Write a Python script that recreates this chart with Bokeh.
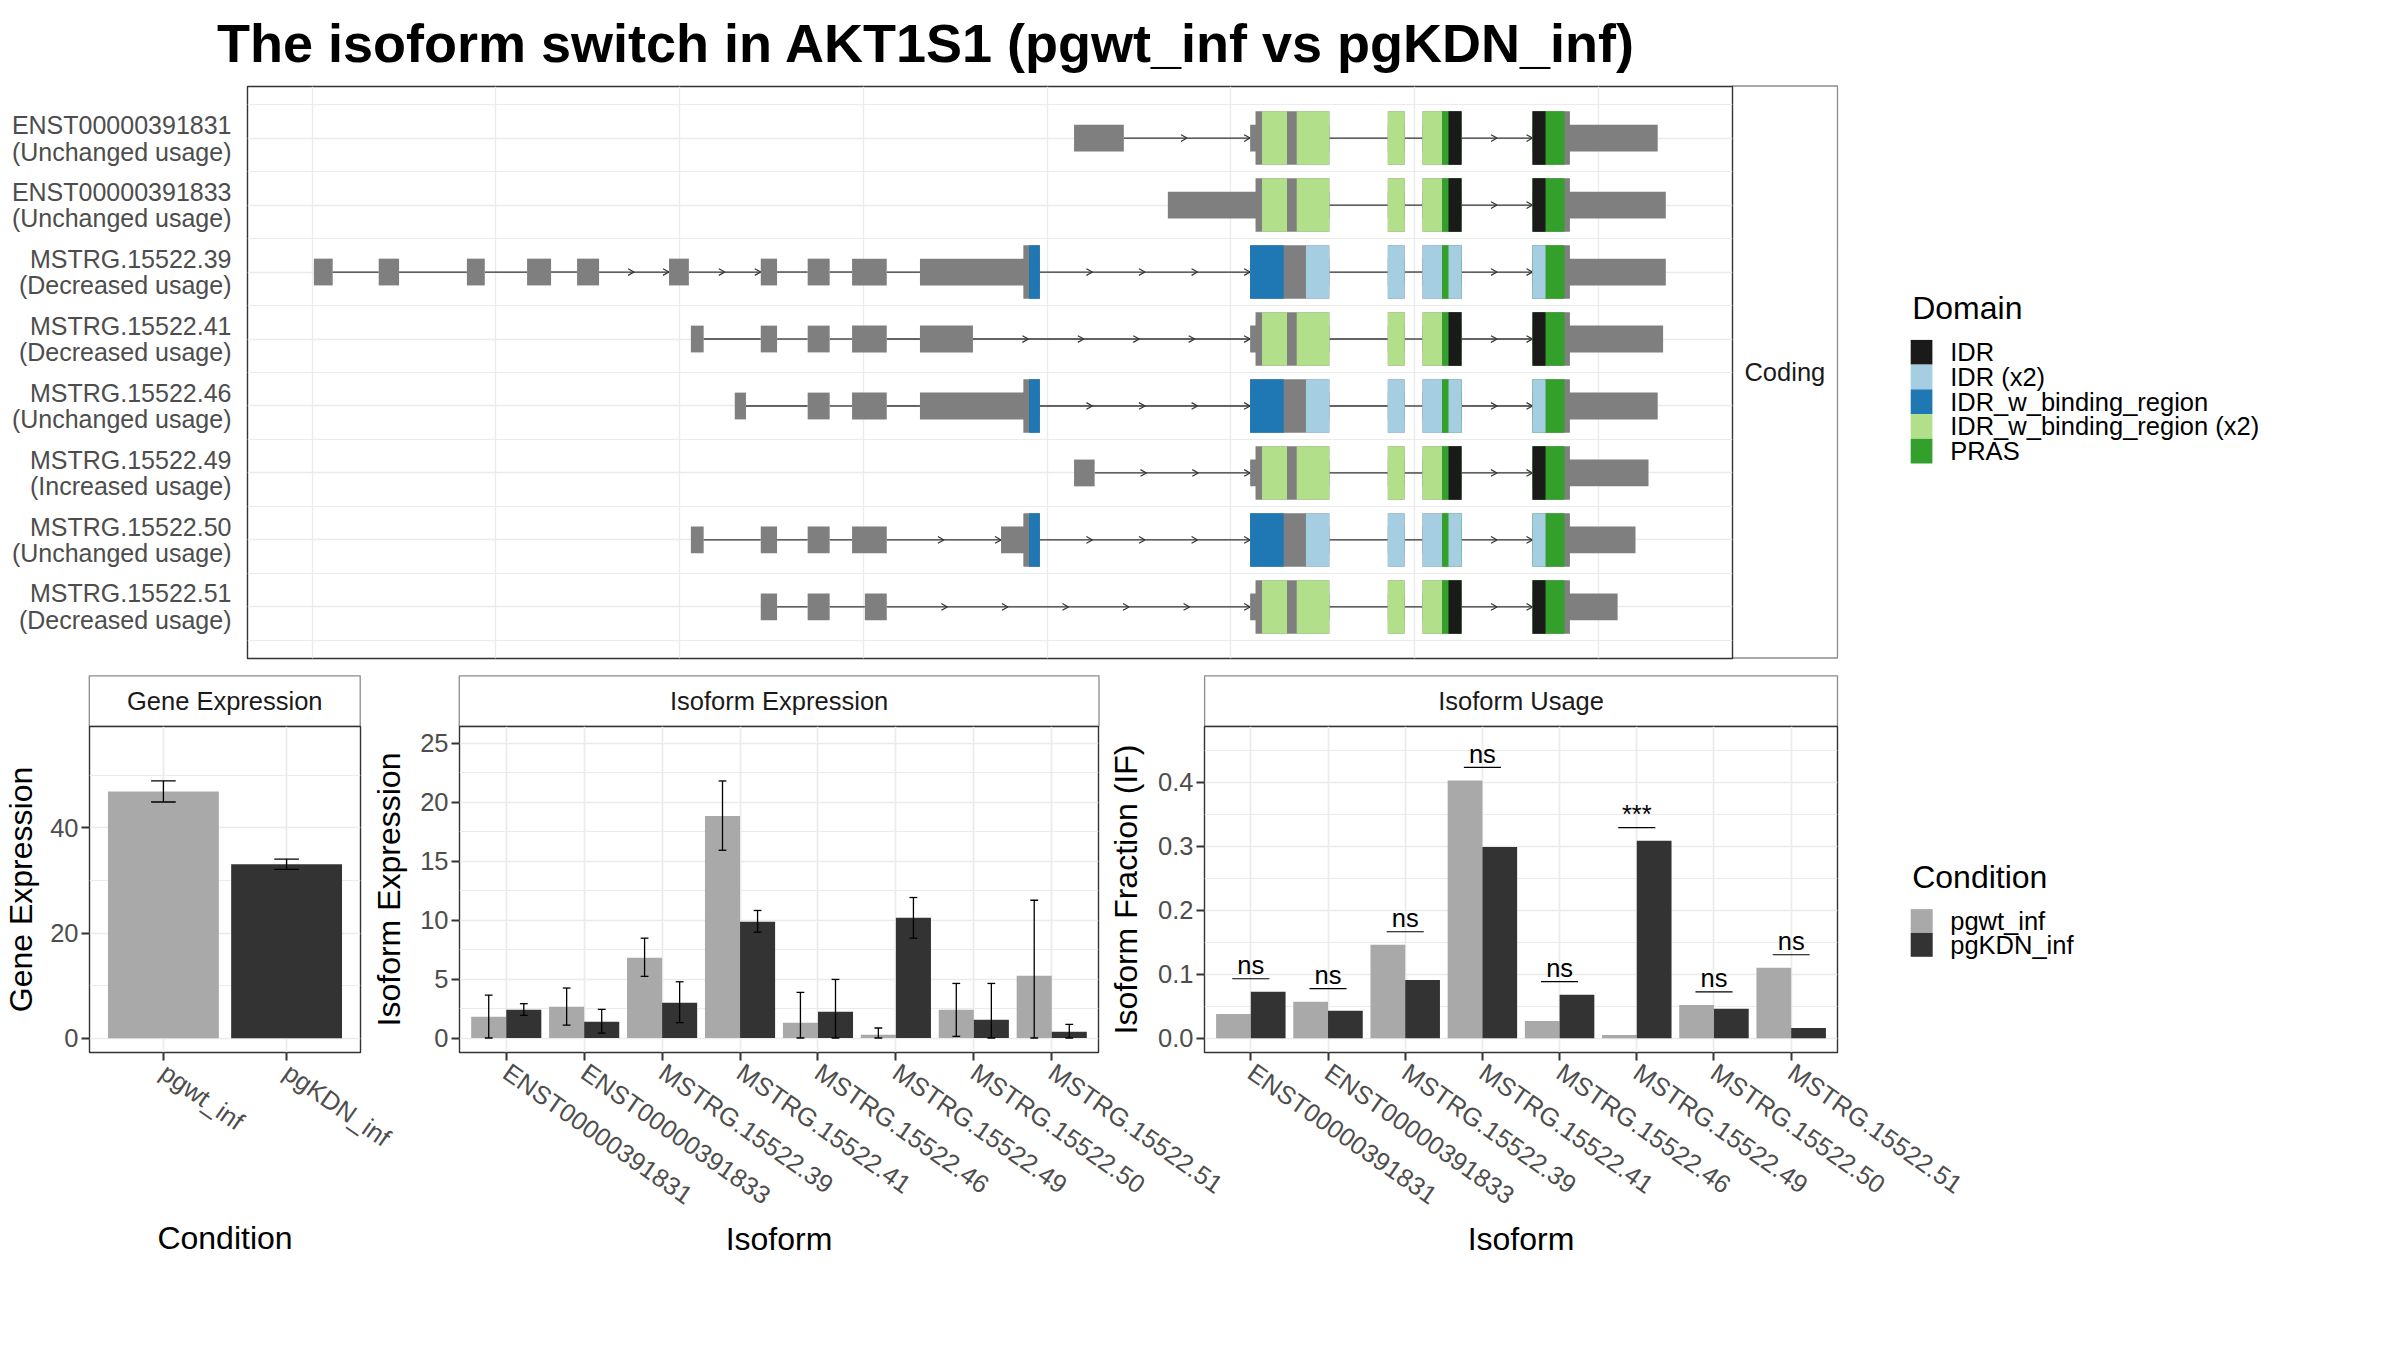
import math
from bokeh.plotting import figure
from bokeh.models import Range1d, FixedTicker, NumeralTickFormatter
from bokeh.layouts import column
from bokeh.core.properties import value
from bokeh.embed import file_html
from bokeh.resources import INLINE

# ---------------- data ----------------
plot_title = "The isoform switch in AKT1S1 (pgwt_inf vs pgKDN_inf)"

transcripts = ["ENST00000391831", "ENST00000391833", "MSTRG.15522.39", "MSTRG.15522.41",
               "MSTRG.15522.46", "MSTRG.15522.49", "MSTRG.15522.50", "MSTRG.15522.51"]
usage_status = ["Unchanged usage", "Unchanged usage", "Decreased usage", "Decreased usage",
                "Unchanged usage", "Increased usage", "Unchanged usage", "Decreased usage"]

# exon (start, end) in rescaled transcript coordinates, one list per transcript
tx_exons = [
    [(1073.2, 1123.0), (1249.3, 1328.5), (1387.0, 1403.8), (1421.7, 1460.7), (1531.7, 1656.9)],
    [(1167.0, 1328.5), (1387.0, 1403.8), (1421.7, 1460.7), (1531.7, 1665.0)],
    [(313.0, 331.8), (377.8, 398.2), (466.0, 483.9), (526.2, 550.2), (576.2, 598.2), (668.1, 688.0),
     (759.9, 776.2), (806.8, 828.8), (851.2, 885.9), (919.1, 1039.0), (1249.3, 1328.5),
     (1387.0, 1403.8), (1421.7, 1460.7), (1531.7, 1665.0)],
    [(690.0, 702.8), (759.9, 776.2), (806.8, 828.8), (851.2, 885.9), (919.1, 972.1),
     (1249.3, 1328.5), (1387.0, 1403.8), (1421.7, 1460.7), (1531.7, 1662.3)],
    [(733.9, 745.1), (806.8, 828.8), (851.2, 885.9), (919.1, 1039.0), (1249.3, 1328.5),
     (1387.0, 1403.8), (1421.7, 1460.7), (1531.7, 1656.9)],
    [(1073.2, 1093.8), (1249.3, 1328.5), (1387.0, 1403.8), (1421.7, 1460.7), (1531.7, 1647.7)],
    [(690.0, 702.8), (759.9, 776.2), (806.8, 828.8), (851.2, 885.9), (1000.2, 1039.0),
     (1249.3, 1328.5), (1387.0, 1403.8), (1421.7, 1460.7), (1531.7, 1634.7)],
    [(759.9, 776.2), (806.8, 828.8), (864.0, 885.9), (1249.3, 1328.5), (1387.0, 1403.8),
     (1421.7, 1460.7), (1531.7, 1616.8)],
]
# number of direction arrows drawn on each intron
tx_intron_arrows = [
    [2, 0, 0, 2],
    [0, 0, 2],
    [0, 0, 0, 0, 2, 2, 0, 0, 0, 4, 0, 0, 2],
    [0, 0, 0, 0, 5, 0, 0, 2],
    [0, 0, 0, 4, 0, 0, 2],
    [3, 0, 0, 2],
    [0, 0, 0, 2, 4, 0, 0, 2],
    [0, 0, 6, 0, 0, 2],
]
tx_cds_start = [1254.7, 1254.7, 1022.5, 1254.7, 1022.5, 1254.7, 1022.5, 1254.7]
tx_cds_end = [1569.1, 1569.1, 1569.1, 1569.1, 1569.1, 1569.1, 1569.1, 1569.1]
tx_domain_set = ["A", "A", "B", "A", "B", "A", "B", "A"]

domA_name = ["PRAS", "IDR_w_binding_region (x2)", "IDR_w_binding_region (x2)", "IDR"]
domA_start = [1441.2, 1261.2, 1295.9, 1447.7]
domA_end = [1563.7, 1286.2, 1441.2, 1544.7]
domB_name = ["PRAS", "IDR_w_binding_region", "IDR (x2)", "IDR (x2)"]
domB_start = [1441.2, 1028.2, 1305.1, 1447.7]
domB_end = [1563.7, 1282.9, 1441.2, 1544.7]

domain_names = ["IDR", "IDR (x2)", "IDR_w_binding_region", "IDR_w_binding_region (x2)", "PRAS"]
domain_colors = ["#1A1A1A", "#A6CEE3", "#1F78B4", "#B2DF8A", "#33A02C"]
x_breaks = [311.4, 495.1, 678.8, 862.5, 1046.2, 1229.9, 1413.6, 1597.3]

conditions = ["pgwt_inf", "pgKDN_inf"]
condition_colors = ["#A9A9A9", "#333333"]
gene_mean = [46.9, 33.05]
gene_lo = [44.9, 32.1]
gene_hi = [48.9, 34.06]

isoforms = ["ENST00000391831", "ENST00000391833", "MSTRG.15522.39", "MSTRG.15522.41",
            "MSTRG.15522.46", "MSTRG.15522.49", "MSTRG.15522.50", "MSTRG.15522.51"]
iso_wt_mean = [1.81, 2.66, 6.81, 18.84, 1.30, 0.28, 2.40, 5.28]
iso_wt_lo = [0.0, 1.10, 5.23, 15.93, 0.0, 0.0, 0.14, 0.0]
iso_wt_hi = [3.64, 4.24, 8.47, 21.81, 3.87, 0.85, 4.63, 11.69]
iso_kd_mean = [2.40, 1.38, 2.99, 9.86, 2.23, 10.20, 1.55, 0.54]
iso_kd_lo = [1.92, 0.42, 1.30, 8.98, 0.0, 8.47, 0.0, 0.0]
iso_kd_hi = [2.91, 2.43, 4.77, 10.82, 4.97, 11.92, 4.63, 1.16]

if_wt = [0.038, 0.057, 0.146, 0.403, 0.027, 0.005, 0.052, 0.110]
if_kd = [0.0725, 0.043, 0.091, 0.299, 0.068, 0.309, 0.046, 0.016]
sig_labels = ["ns", "ns", "ns", "ns", "ns", "***", "ns", "ns"]

# ---------------- layout / style ----------------
W, H = 2400, 1344
S = 100      # every panel layer starts S px left of the page (hidden part)
FONT = "Liberation Sans"
GRID = "#EBEBEB"
SMALL = "25.5px"
BIG = "32px"


def panel(fl, fr, ft, fb, xr, yr):
    l, r, t, b = round(fl), round(fr), round(ft), round(fb)
    p = figure(width=W, height=H, x_range=xr, y_range=yr, output_backend="svg",
               toolbar_location=None, frame_align=False,
               min_border_left=l + S, min_border_right=W - S - r,
               min_border_top=t, min_border_bottom=H - b)
    p.border_fill_color = None
    p.background_fill_color = "white"
    p.outline_line_color = "#333333"
    p.outline_line_width = 1.4
    for ax in p.axis:
        ax.axis_line_color = None
        ax.major_tick_line_color = "#333333"
        ax.major_tick_line_width = 2
        ax.major_tick_out = 8
        ax.major_tick_in = 0
        ax.minor_tick_line_color = None
        ax.major_label_text_font = FONT
        ax.major_label_text_font_size = SMALL
        ax.major_label_text_color = "#4D4D4D"
        ax.major_label_standoff = 3
        ax.axis_label_text_font = FONT
        ax.axis_label_text_font_size = BIG
        ax.axis_label_text_font_style = "normal"
        ax.axis_label_text_color = "black"
    p.grid.grid_line_color = GRID
    p.grid.grid_line_width = 1.7
    return p


def cat_xaxis(p, labels, label, standoff):
    ticks = list(range(1, len(labels) + 1))
    t = FixedTicker(ticks=ticks)
    p.xaxis.ticker = t
    p.xgrid.ticker = t
    p.xaxis.major_label_overrides = {k: v for k, v in zip(ticks, labels)}
    p.xaxis.major_label_orientation = -math.radians(35)
    p.xaxis.major_label_standoff = 9
    p.xaxis.axis_label = label
    p.xaxis.axis_label_standoff = standoff


def val_yaxis(p, major, minor, label, standoff):
    t = FixedTicker(ticks=major, minor_ticks=minor)
    p.yaxis.ticker = t
    p.ygrid.ticker = t
    p.ygrid.minor_grid_line_color = GRID
    p.ygrid.minor_grid_line_width = 1.0
    p.yaxis.axis_label = label
    p.yaxis.axis_label_standoff = standoff


def error_bars(p, xs, lo, hi, cap):
    p.segment(x0=xs, y0=lo, x1=xs, y1=hi, line_color="black", line_width=1.3)
    p.segment(x0=[x - cap for x in xs], y0=lo, x1=[x + cap for x in xs], y1=lo,
              line_color="black", line_width=1.3)
    p.segment(x0=[x - cap for x in xs], y0=hi, x1=[x + cap for x in xs], y1=hi,
              line_color="black", line_width=1.3)


# ---------------- background figure: title, strips, legends (page pixels) ----------------
ann = figure(width=W, height=H, x_range=Range1d(0, W), y_range=Range1d(H, 0),
             x_axis_type=None, y_axis_type=None, output_backend="svg",
             toolbar_location=None, min_border=0, frame_align=False)
ann.grid.visible = False
ann.outline_line_color = None
ann.background_fill_color = "white"
ann.border_fill_color = "white"

ann.text(x=[926], y=[42.3], text=[plot_title], text_font=value(FONT),
         text_font_size="54px", text_font_style="bold", text_align="center",
         text_baseline="middle", text_color="black")

strip_l = [1731.7, 88.8, 458.75, 1204.1]
strip_r = [1837.0, 359.7, 1098.5, 1837.0]
strip_t = [85.5, 675.3, 675.3, 675.3]
strip_b = [657.5, 725.8, 725.8, 725.8]
strip_txt = ["Coding", "Gene Expression", "Isoform Expression", "Isoform Usage"]
ann.quad(left=strip_l, right=strip_r, top=strip_t, bottom=strip_b,
         fill_color="white", line_color="#8C8C8C", line_width=1.3)
ann.text(x=[(a + b) / 2 for a, b in zip(strip_l, strip_r)],
         y=[(a + b) / 2 for a, b in zip(strip_t, strip_b)], text=strip_txt,
         text_font=value(FONT), text_font_size=SMALL, text_align="center",
         text_baseline="middle", text_color="#1A1A1A")


def legend_block(title, names, colors, x0, title_mid, key_top, key_h, key_w):
    ann.text(x=[x0], y=[title_mid], text=[title], text_font=value(FONT),
             text_font_size=BIG, text_align="left", text_baseline="middle", text_color="black")
    tops = [key_top + k * key_h for k in range(len(names))]
    ann.quad(left=x0 - 1.5, right=x0 - 1.5 + key_w,
             top=tops, bottom=[t + key_h for t in tops],
             fill_color=colors, line_color=None)
    ann.text(x=x0 + 38, y=[t + key_h / 2 for t in tops], text=names,
             text_font=value(FONT), text_font_size=SMALL, text_align="left",
             text_baseline="middle", text_color="black")


legend_block("Domain", domain_names, domain_colors, 1911.7, 307.5, 339.4, 24.72, 21.7)
legend_block("Condition", conditions, condition_colors, 1911.7, 876.9, 908.6, 23.85, 22.0)

# ---------------- transcript structure panel ----------------
rows = list(range(1, len(transcripts) + 1))
pt = panel(246.6, 1731.7, 85.5, 657.5, Range1d(246.6, 1731.7), Range1d(8.77, 0.23))
pt.xaxis.visible = False
pt.xgrid.ticker = FixedTicker(ticks=x_breaks)
pt.xgrid.grid_line_width = 1.3
pt.yaxis.ticker = FixedTicker(ticks=rows)
pt.ygrid.ticker = FixedTicker(ticks=rows, minor_ticks=[r - 0.5 for r in rows] + [rows[-1] + 0.5])
pt.ygrid.grid_line_width = 1.6
pt.ygrid.minor_grid_line_color = GRID
pt.ygrid.minor_grid_line_width = 1.1
pt.yaxis.major_label_overrides = {r: f"{t}\n({s})" for r, t, s in zip(rows, transcripts, usage_status)}
pt.yaxis.major_tick_line_color = None
pt.yaxis.major_tick_out = 0
pt.yaxis.major_label_standoff = 16
pt.yaxis.major_label_text_font_size = "25px"
pt.yaxis.major_label_text_line_height = 0.96

color_of = dict(zip(domain_names, domain_colors))
dom_sets = {"A": (domA_name, domA_start, domA_end), "B": (domB_name, domB_start, domB_end)}
ARW, ARH = 6.0, 0.05
SHORT, TALL = 0.2, 0.4

in_x0, in_x1, in_y = [], [], []
ar_xs, ar_ys = [], []
ex_l, ex_r, ex_y = [], [], []
cd_l, cd_r, cd_y = [], [], []
dm_l, dm_r, dm_y, dm_c = [], [], [], []
for i, exons in enumerate(tx_exons):
    y = rows[i]
    for j in range(len(exons) - 1):
        a, b = exons[j][1], exons[j + 1][0]
        in_x0.append(a); in_x1.append(b); in_y.append(y)
        n = tx_intron_arrows[i][j]
        for k in range(1, n + 1):
            tip = a + (b - a) * k / n
            ar_xs.append([tip - ARW, tip, tip - ARW])
            ar_ys.append([y - ARH, y, y + ARH])
    c0, c1 = tx_cds_start[i], tx_cds_end[i]
    names, starts, ends = dom_sets[tx_domain_set[i]]
    for s, e in exons:
        ex_l.append(s); ex_r.append(e); ex_y.append(y)
        cs, ce = max(s, c0), min(e, c1)
        if cs < ce:
            cd_l.append(cs); cd_r.append(ce); cd_y.append(y)
            for nm, ds, de in zip(names, starts, ends):
                l, r = max(cs, ds), min(ce, de)
                if l < r:
                    dm_l.append(l); dm_r.append(r); dm_y.append(y); dm_c.append(color_of[nm])

pt.segment(x0=in_x0, y0=in_y, x1=in_x1, y1=in_y, line_color="#333333", line_width=1.3)
pt.multi_line(xs=ar_xs, ys=ar_ys, line_color="#333333", line_width=1.2)
pt.quad(left=ex_l, right=ex_r, top=[v - SHORT for v in ex_y], bottom=[v + SHORT for v in ex_y],
        fill_color="#7F7F7F", line_color=None)
pt.quad(left=cd_l, right=cd_r, top=[v - TALL for v in cd_y], bottom=[v + TALL for v in cd_y],
        fill_color="#7F7F7F", line_color=None)
pt.quad(left=dm_l, right=dm_r, top=[v - TALL for v in dm_y], bottom=[v + TALL for v in dm_y],
        fill_color=dm_c, line_color=None)

# ---------------- gene expression ----------------
gx = [1, 2]
pg = panel(88.8, 359.7, 725.8, 1051.8, Range1d(0.4, 2.6), Range1d(-2.7, 59.25))
pg.vbar(x=gx, top=gene_mean, bottom=0, width=0.9, fill_color=condition_colors, line_color=None)
error_bars(pg, gx, gene_lo, gene_hi, 0.1)
cat_xaxis(pg, conditions, "Condition", 54)
val_yaxis(pg, [0, 20, 40], [10, 30, 50], "Gene Expression", 8)

# ---------------- isoform expression ----------------
xi = [k + 1 for k in range(len(isoforms))]
x_wt = [x - 0.225 for x in xi]
x_kd = [x + 0.225 for x in xi]
pe = panel(458.75, 1098.5, 725.8, 1051.8, Range1d(0.4, 8.6), Range1d(-1.23, 26.43))
pe.vbar(x=x_wt, top=iso_wt_mean, bottom=0, width=0.45, fill_color=condition_colors[0], line_color=None)
pe.vbar(x=x_kd, top=iso_kd_mean, bottom=0, width=0.45, fill_color=condition_colors[1], line_color=None)
error_bars(pe, x_wt, iso_wt_lo, iso_wt_hi, 0.05)
error_bars(pe, x_kd, iso_kd_lo, iso_kd_hi, 0.05)
cat_xaxis(pe, isoforms, "Isoform", -3)
val_yaxis(pe, [0, 5, 10, 15, 20, 25], [2.5, 7.5, 12.5, 17.5, 22.5], "Isoform Expression", 10)

# ---------------- isoform usage ----------------
pu = panel(1204.1, 1837.0, 725.8, 1051.8, Range1d(0.4, 8.6), Range1d(-0.0224, 0.4876))
pu.vbar(x=x_wt, top=if_wt, bottom=0, width=0.45, fill_color=condition_colors[0], line_color=None)
pu.vbar(x=x_kd, top=if_kd, bottom=0, width=0.45, fill_color=condition_colors[1], line_color=None)
sig_y = [max(a, b) + 0.0205 for a, b in zip(if_wt, if_kd)]
pu.segment(x0=[x - 0.24 for x in xi], y0=sig_y, x1=[x + 0.24 for x in xi], y1=sig_y,
           line_color="black", line_width=1.2)
pu.text(x=xi, y=[v + 0.021 for v in sig_y], text=sig_labels, text_font=value(FONT),
        text_font_size=SMALL, text_align="center", text_baseline="middle", text_color="black")
cat_xaxis(pu, isoforms, "Isoform", -3)
val_yaxis(pu, [0, 0.1, 0.2, 0.3, 0.4], [0.05, 0.15, 0.25, 0.35, 0.45], "Isoform Fraction (IF)", 11)
pu.yaxis.formatter = NumeralTickFormatter(format="0.0")

# all layers share the same page area: every layer after the first is pulled up by one height
for layer in (pt, pg, pe, pu):
    layer.margin = (-H, 0, 0, -S)
root = column(ann, pt, pg, pe, pu, spacing=0)
open("out.html", "w").write(file_html(root, INLINE, title="AKT1S1 isoform switch"))
